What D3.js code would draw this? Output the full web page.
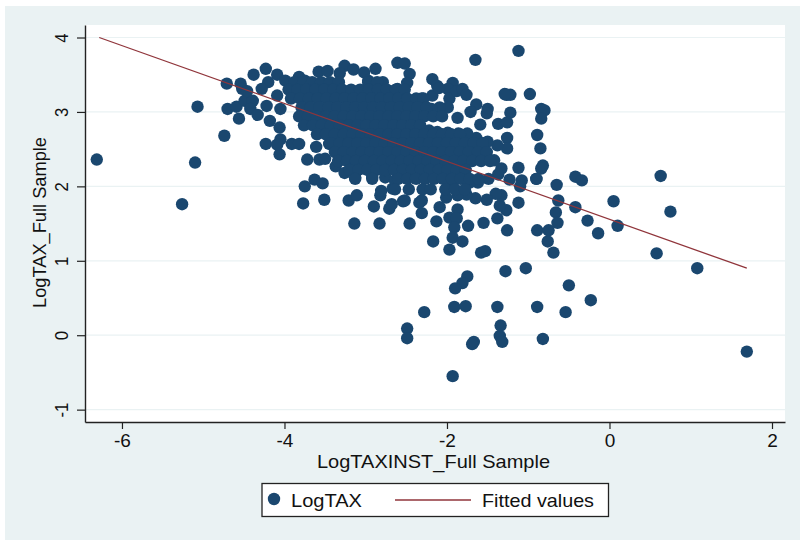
<!DOCTYPE html>
<html lang="en">
<head>
  <meta charset="UTF-8">
  <title>LogTAX scatter</title>
  <script src="https://cdn.jsdelivr.net/npm/d3@7"></script>
  <style>
    html, body { margin: 0; padding: 0; background: #fff; }
    svg { display: block; }
    text { font-family: "Liberation Sans", Arial, sans-serif; fill: #111; }
  </style>
</head>
<body>
<svg id="chart" width="800" height="540"></svg>
<script>
  // scattered firms
  const logTaxInst = [
    -6.31,-5.10,-5.26,-5.07,-4.74,-4.71,-4.70,-4.59,-4.56,-4.49,-4.39,-4.54,-4.52,-4.38,-4.23,-4.20,-4.28,-4.46,-4.42,-4.33,
    -4.22,-4.05,-4.18,-4.06,-4.09,-4.23,-4.05,-4.06,-4.09,-3.91,-3.82,-3.72,-3.61,-3.57,-3.50,-3.63,-3.53,-3.75,-3.77,-3.51,
    -3.21,-3.11,-3.14,-2.83,-2.90,-2.71,-2.68,-2.82,-2.81,-2.67,-3.37,-3.32,-3.45,-3.26,-3.13,-2.92,-2.76,-2.64,
    -4.09,-3.82,-3.99,-3.75,-3.58,-3.47,-3.26,-3.15,-3.02,-2.88,-2.79,-2.97,-3.32,
    -2.61,-2.52,-2.46,-2.49,-2.61,-2.18,-2.12,-2.18,-1.93,-1.99,-1.97,-1.88,
    -1.12,-1.65,-2.10,-1.81,-1.76,-1.27,-1.22,-1.29,-0.98,-0.84,-0.80,-0.84,-1.22,-1.50,-1.51,-1.64,-1.71,-1.59,-1.37,-1.26,
    -1.26,-0.89,-0.85,-0.90,-1.26,-1.38,-1.50,-1.64,-1.75,-1.86,-1.99,-2.12,-2.22,-1.87,-1.99,-2.09,-2.19,-2.31,
    -1.12,-0.82,-0.84,-0.90,-1.08,-1.10,-1.23,-1.33,-1.37,-1.49,-1.42,-1.51,-1.62,-1.72,-1.93,-0.65,-0.42,-0.34,0.63,0.75,
    0.05,-0.63,-0.42,-0.66,-0.64,-0.27,0.10,-0.14,0.58,1.08,-0.69,-0.76,-0.89,-0.75,-1.26,-1.12,-1.38,-1.27,-1.35,-1.33,
    -1.40,-1.51,-1.65,-1.76,-1.87,-2.01,-1.87,-2.09,-1.97,-1.88,-1.91,-1.74,-1.55,-2.13,-2.31,-2.46,-2.17,-1.93,-1.81,-1.97,
    -1.58,-1.53,-1.28,-1.03,-1.75,-1.81,-1.90,-0.50,-0.23,-2.28,-1.91,-1.77,-1.38,-0.89,-0.54,-1.34,-2.49,-2.49,-1.35,-1.32,
    -1.67,-1.69,-0.82,-1.93,1.69,-2.54,-2.34,-2.52,-2.31
  ];
  const logTax = [
    2.36,2.32,1.76,3.07,2.68,3.38,3.04,3.07,2.91,3.15,3.15,3.38,3.31,3.50,3.58,3.40,3.31,3.28,3.04,2.96,
    3.08,3.04,2.88,2.79,3.22,2.57,2.63,2.43,2.56,2.57,2.57,2.36,2.53,2.36,2.37,2.09,2.04,2.00,1.77,1.82,
    1.81,1.88,1.50,1.50,1.73,1.70,1.76,1.88,1.94,1.97,2.27,2.35,2.57,2.18,2.12,2.13,2.12,2.08,
    3.50,3.47,3.42,3.42,3.54,3.55,3.62,3.57,3.53,3.58,3.40,3.42,3.52,
    3.66,3.65,3.51,3.39,3.31,3.44,3.35,3.22,3.39,3.31,3.18,3.28,
    3.82,3.70,3.32,3.31,3.23,3.23,3.23,3.24,3.24,3.04,3.02,2.91,2.99,3.04,2.98,3.10,3.00,2.83,2.84,2.86,
    2.65,2.69,2.51,2.10,2.51,2.55,2.60,2.65,2.71,2.71,2.72,2.73,2.75,2.92,3.06,3.06,3.04,3.18,
    2.25,2.28,2.24,2.10,2.08,2.00,2.09,2.24,2.16,2.10,2.35,2.39,2.05,2.05,2.04,2.02,2.13,2.08,2.14,1.66,
    1.80,1.81,1.72,1.65,1.51,1.54,1.47,1.37,1.10,0.90,1.11,1.26,1.41,1.41,1.41,1.78,1.57,1.68,1.74,1.88,
    1.90,1.82,1.84,1.89,1.88,1.85,1.69,1.72,1.58,1.57,1.45,1.47,1.51,1.53,1.64,1.50,1.26,1.31,1.26,1.15,
    1.11,1.13,0.86,0.90,0.79,0.70,0.63,0.67,0.47,0.31,0.38,0.39,0.38,0.38,0.31,0.13,0.09,-0.04,-0.01,-0.09,
    -0.09,-0.12,-0.05,-0.55,-0.22,1.80,1.78,1.81,1.81
  ];

  // the solid middle of the cloud, read band by band
  const bandTax = [3.40, 3.30, 3.18, 3.06, 2.94, 2.82, 2.70, 2.58, 2.46, 2.34, 2.22, 2.10, 1.96];
  const bandInst = [
    [-3.88,-3.77,-3.66,-3.55,-3.44,-3.33,-2.97,-2.86],
    [-3.95,-3.84,-3.73,-3.62,-3.51,-3.40,-3.29,-3.18,-3.07,-2.96,-2.85,-2.74,-2.63,-2.52],
    [-3.92,-3.81,-3.70,-3.59,-3.48,-3.37,-3.26,-3.15,-3.04,-2.93,-2.82,-2.71,-2.60,-2.49,-2.38,-2.29],
    [-3.79,-3.68,-3.57,-3.46,-3.35,-3.24,-3.13,-3.02,-2.91,-2.80,-2.69,-2.58,-2.47,-2.36,-2.25],
    [-3.82,-3.71,-3.60,-3.49,-3.38,-3.27,-3.16,-3.05,-2.94,-2.83,-2.72,-2.61,-2.50,-2.39,-2.28,-2.17,-2.06],
    [-3.76,-3.65,-3.54,-3.43,-3.32,-3.21,-3.10,-2.99,-2.88,-2.77,-2.66,-2.55,-2.44,-2.33],
    [-3.60,-3.49,-3.38,-3.27,-3.16,-3.05,-2.94,-2.83,-2.72,-2.61,-2.50,-2.39,-2.28,-2.17,-2.06,-1.95,-1.84],
    [-3.43,-3.32,-3.21,-3.10,-2.99,-2.88,-2.77,-2.66,-2.55,-2.44,-2.33,-2.22,-2.11,-2.00,-1.89,-1.78,-1.67,-1.56],
    [-3.38,-3.27,-3.16,-3.05,-2.94,-2.83,-2.72,-2.61,-2.50,-2.39,-2.28,-2.17,-2.06,-1.95,-1.84,-1.73,-1.62,-1.51],
    [-3.34,-3.23,-3.12,-3.01,-2.90,-2.79,-2.68,-2.57,-2.46,-2.35,-2.24,-2.13,-2.02,-1.91,-1.80,-1.69,-1.58,-1.47],
    [-3.20,-3.09,-2.98,-2.87,-2.76,-2.65,-2.54,-2.43,-2.32,-2.21,-2.10,-1.99,-1.88,-1.77],
    [-3.13,-2.92,-2.60,-2.49,-2.38,-2.27,-2.16,-2.05,-1.94,-1.83,-1.72,-1.61],
    [-2.64,-2.47,-2.30,-2.20,-2.02,-1.90,-1.78]
  ];

  const fitInst = [-6.28, 1.69];
  const fitTax = [4.0, 0.90];

  const xTicks = [-6, -4, -2, 0, 2];
  const yTicks = [-1, 0, 1, 2, 3, 4];

  const navy = "#1a476f", maroon = "#90353b", bg = "#eaf2f3", ink = "#222";

  const svg = d3.select("#chart");
  const plotLeft = 85, plotRight = 785, plotTop = 25, plotBottom = 422;
  const dotR = 6.2;

  const x = d3.scaleLinear().domain([-6.455, 2.16]).range([plotLeft, plotRight]);
  const y = d3.scaleLinear().domain([-1.166, 4.168]).range([plotBottom, plotTop]);

  svg.append("rect").attr("x", 5).attr("y", 6).attr("width", 795).attr("height", 534).attr("fill", bg);
  svg.append("rect").attr("x", plotLeft).attr("y", plotTop)
    .attr("width", plotRight - plotLeft).attr("height", plotBottom - plotTop).attr("fill", "#fff");

  // grid
  svg.append("g").selectAll("line").data(yTicks).join("line")
    .attr("x1", plotLeft).attr("x2", plotRight)
    .attr("y1", d => y(d)).attr("y2", d => y(d))
    .attr("stroke", bg).attr("stroke-width", 1.2);

  // points
  const points = logTaxInst.map((d, i) => [d, logTax[i]]);
  bandInst.forEach((row, i) => row.forEach(d => points.push([d, bandTax[i]])));

  svg.append("g").selectAll("circle").data(points).join("circle")
    .attr("cx", d => x(d[0])).attr("cy", d => y(d[1]))
    .attr("r", dotR).attr("fill", navy);

  // fitted line
  const line = d3.line().x(d => x(d[0])).y(d => y(d[1]));
  svg.append("path")
    .attr("d", line(fitInst.map((d, i) => [d, fitTax[i]])))
    .attr("fill", "none").attr("stroke", maroon).attr("stroke-width", 1.3);

  // axes
  const xAxis = svg.append("g").attr("transform", "translate(0," + plotBottom + ")")
    .call(d3.axisBottom(x).tickValues(xTicks).tickSize(7).tickSizeOuter(0).tickPadding(5).tickFormat(d3.format("d")));
  const yAxis = svg.append("g").attr("transform", "translate(" + plotLeft + ",0)")
    .call(d3.axisLeft(y).tickValues(yTicks).tickSize(8).tickSizeOuter(0).tickFormat(d3.format("d")));

  [xAxis, yAxis].forEach(a => {
    a.selectAll("path.domain").attr("stroke", ink).attr("stroke-width", 1.4);
    a.selectAll("line").attr("stroke", ink).attr("stroke-width", 1.2);
    a.selectAll("text").attr("font-size", 19).attr("fill", "#111")
      .style("font-family", '"Liberation Sans", Arial, sans-serif');
  });
  xAxis.selectAll("text").text(d => String(d));

  // the picture is stretched sideways, so the upright y labels read narrower
  yAxis.selectAll("text")
    .text(d => String(d))
    .attr("text-anchor", "middle").attr("dy", 0).attr("x", 0)
    .attr("transform", "translate(-17,0) rotate(-90) scale(0.88,1)");

  // axis titles
  svg.append("text").attr("x", 433.5).attr("y", 468).attr("text-anchor", "middle")
    .attr("font-size", 18.5).attr("textLength", 233).attr("lengthAdjust", "spacingAndGlyphs")
    .text("LogTAXINST_Full Sample");
  svg.append("text").attr("transform", "translate(46,222.5) rotate(-90)").attr("text-anchor", "middle")
    .attr("font-size", 19).attr("textLength", 171).attr("lengthAdjust", "spacingAndGlyphs")
    .text("LogTAX_Full Sample");

  // legend
  const legend = svg.append("g");
  legend.append("rect").attr("x", 262).attr("y", 483.5).attr("width", 346.5).attr("height", 33)
    .attr("fill", "#fff").attr("stroke", ink).attr("stroke-width", 1.3);
  legend.append("circle").attr("cx", 274).attr("cy", 499).attr("r", dotR).attr("fill", navy);
  legend.append("text").attr("x", 291).attr("y", 507).attr("font-size", 18.5)
    .attr("textLength", 71).attr("lengthAdjust", "spacingAndGlyphs").text("LogTAX");
  legend.append("line").attr("x1", 395).attr("x2", 471).attr("y1", 500).attr("y2", 500)
    .attr("stroke", maroon).attr("stroke-width", 1.3);
  legend.append("text").attr("x", 482).attr("y", 507).attr("font-size", 18.5)
    .attr("textLength", 112).attr("lengthAdjust", "spacingAndGlyphs").text("Fitted values");
</script>
</body>
</html>
